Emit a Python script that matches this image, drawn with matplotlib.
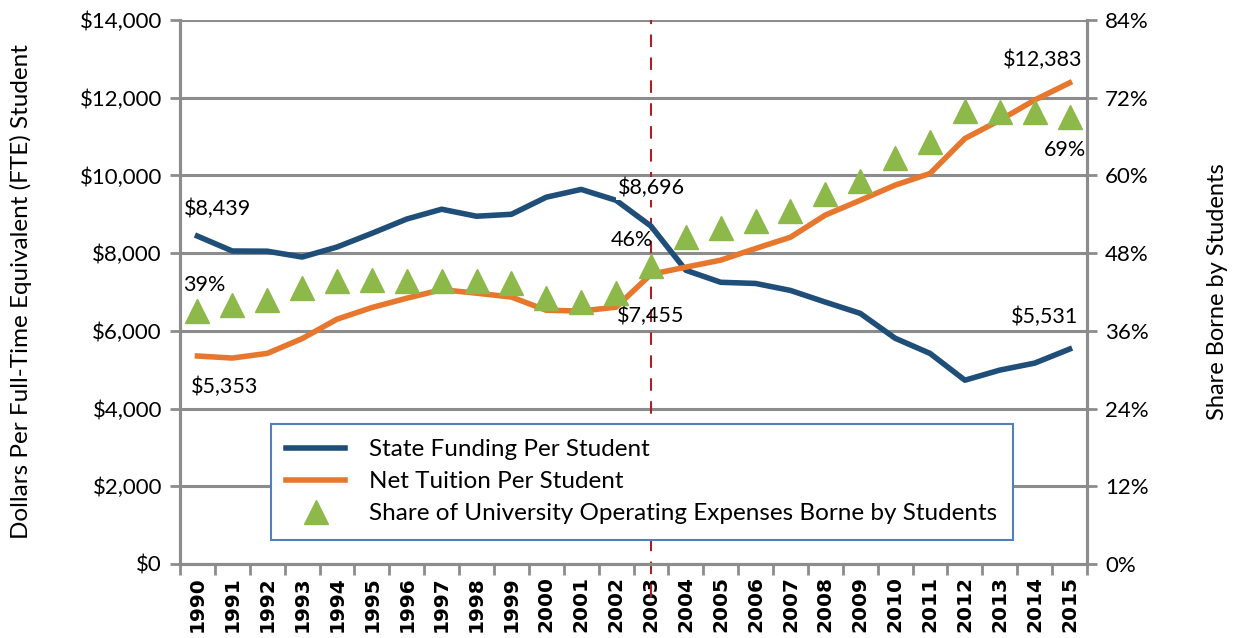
import numpy as np
import matplotlib.pyplot as plt
from matplotlib.ticker import FuncFormatter

plt.rcParams['font.family'] = ['Lato', 'DejaVu Sans']

years = [str(y) for y in range(1990, 2016)]
state_funding = [8439, 8055, 8050, 7900, 8157, 8510, 8878, 9130, 8950, 9000,
                 9440, 9640, 9360, 8696, 7560, 7250, 7220, 7040, 6740, 6450,
                 5810, 5420, 4730, 4990, 5170, 5531]
net_tuition = [5353, 5300, 5420, 5800, 6300, 6600, 6840, 7060, 6970, 6870,
               6530, 6510, 6610, 7455, 7640, 7820, 8120, 8410, 8980, 9360,
               9750, 10050, 10950, 11420, 11940, 12383]
share = [39, 40, 40.8, 42.6, 43.7, 43.9, 43.7, 43.7, 43.7, 43.4,
         41.1, 40.5, 41.8, 46, 50.5, 51.9, 53.0, 54.5, 57.1, 59.1,
         62.7, 65.2, 70.0, 69.8, 69.8, 69]

blue = '#1F4E79'
orange = '#E8772E'
green = '#8DB84A'
grey = '#8C8C8C'

fig = plt.figure(figsize=(12.33, 6.38), dpi=100)
ax = fig.add_axes([180 / 1233, 74 / 638, 907 / 1233, 544 / 638])
ax2 = ax.twinx()

x = np.arange(len(years))

ax.set_ylim(0, 14000)
ax.set_yticks(np.arange(0, 14001, 2000))
ax.yaxis.set_major_formatter(FuncFormatter(lambda v, p: '${:,.0f}'.format(v)))
ax.grid(axis='y', color=grey, linewidth=2.2)
ax.set_axisbelow(True)
ax.set_xlim(-0.5, len(years) - 0.5)

ax2.set_ylim(0, 84)
ax2.set_yticks(np.arange(0, 85, 12))
ax2.yaxis.set_major_formatter(FuncFormatter(lambda v, p: '{:.0f}%'.format(v)))

for a in (ax, ax2):
    for s in a.spines.values():
        s.set_color(grey)
        s.set_linewidth(2.2)
    a.spines['top'].set_visible(False)
    a.tick_params(axis='y', direction='out', length=7, width=2, color=grey,
                  labelsize=16, pad=6)

ax.set_xticks(x)
ax.set_xticklabels(years, rotation=90, fontsize=14.5, fontweight='bold',
                   family='DejaVu Sans')
ax.tick_params(axis='x', length=0, pad=9)
ax.set_xticks(np.arange(-0.5, len(years)), minor=True)
ax.tick_params(axis='x', which='minor', direction='out', length=8, width=2,
               color=grey)

ax.axvline(13, color='#A8202A', linestyle=(0, (6, 5)), linewidth=1.5,
           ymin=-0.06, ymax=1, clip_on=False, zorder=1)

l1, = ax.plot(x, state_funding, color=blue, linewidth=4,
              label='State Funding Per Student', zorder=3)
l2, = ax.plot(x, net_tuition, color=orange, linewidth=4,
              label='Net Tuition Per Student', zorder=3)
l3, = ax2.plot(x, share, linestyle='none', marker='^', markersize=17,
               color=green, label='Share of University Operating Expenses Borne by Students')

ax.set_ylabel('Dollars Per Full-Time Equivalent (FTE) Student', fontsize=17.5,
              labelpad=34)
ax2.set_ylabel('Share Borne by Students', fontsize=17, rotation=90,
               labelpad=42)

fs = 15.5
def note(axis, i, vals, text, dx, dy, bg=False):
    kw = {}
    if bg:
        kw['bbox'] = dict(facecolor='white', edgecolor='none', pad=1)
    axis.annotate(text, (x[i], vals[i]), xytext=(dx, dy), textcoords='offset pixels',
                  ha='center', va='center', fontsize=fs, **kw)

note(ax, 0, state_funding, '$8,439', 20, 27)
note(ax2, 0, share, '39%', 7, 26)
note(ax, 0, net_tuition, '$5,353', 27, -31)
note(ax, 13, state_funding, '$8,696', 0, 38, bg=True)
note(ax2, 13, share, '46%', -19, 26)
note(ax, 13, net_tuition, '$7,455', 0, -42)
note(ax, 25, net_tuition, '$12,383', -27, 23)
note(ax2, 25, share, '69%', -5, -33)
note(ax, 25, state_funding, '$5,531', -25, 32)

leg = ax2.legend(handles=[l1, l2, l3], loc='lower left',
                 bbox_to_anchor=(0.1, 0.044), fontsize=17.5, frameon=True,
                 fancybox=False, framealpha=1, handlelength=2.4,
                 handletextpad=1.0, borderpad=0.65, labelspacing=0.45,
                 borderaxespad=0)
leg.get_frame().set_edgecolor('#4F81BD')
leg.get_frame().set_linewidth(1.5)

plt.savefig('out.png', dpi=100)
